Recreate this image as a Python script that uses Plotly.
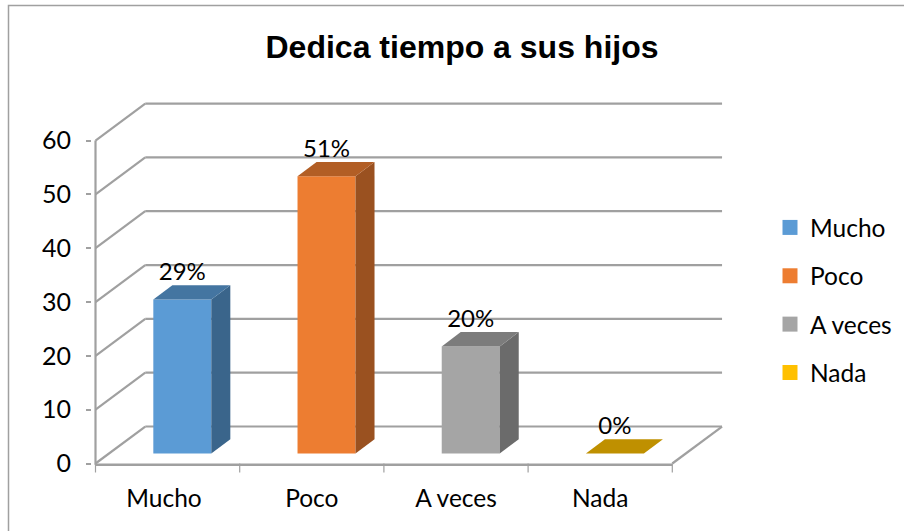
import plotly.graph_objects as go

categories = ["Mucho", "Poco", "A veces", "Nada"]
values = [28.6, 51.5, 19.9, 0]
labels = ["29%", "51%", "20%", "0%"]
y_ticks = [0, 10, 20, 30, 40, 50, 60]
front_colors = ["#5B9BD5", "#ED7D31", "#A5A5A5", "#FFC000"]
top_colors = ["#4475A1", "#B25E25", "#7C7C7C", "#BF9000"]
side_colors = ["#3A658B", "#9A5120", "#6B6B6B", "#A67C00"]

W, H = 904, 531
L, R, T, B = 92.0, 904.0, 100.0, 478.0
AX_X, AX_Y = 95.5, 463.5
PX_X, PX_Y = 144.2, 5.383
GRID = "#A0A0A0"
depth_x, depth_y = 0.345, 6.87
bar_width, bar_shift, bar_base = 0.402, 0.102, 1.85
bar_dx, bar_dy = 0.132, 2.66
x_range = [-0.5 - (AX_X - L) / PX_X, -0.5 + (R - AX_X) / PX_X]
y_range = [-(B - AX_Y) / PX_Y, (AX_Y - T) / PX_Y]
positions = list(range(len(categories)))
label_nudge = [-0.025, 0, 0, 0]

fig = go.Figure()
shapes = []


def seg(x0, y0, x1, y1, width=2.2):
    shapes.append(dict(type="line", xref="x", yref="y", x0=x0, y0=y0, x1=x1, y1=y1,
                       layer="below", line=dict(color=GRID, width=width)))


# walls, floor and axis lines follow the value ticks
x_left, x_right = -0.5, len(categories) - 0.5
for t in y_ticks:
    seg(x_left, t, x_left + depth_x, t + depth_y)
    seg(x_left + depth_x, t + depth_y, x_right + depth_x, t + depth_y)
seg(x_left, y_ticks[0] - 0.25, x_left, y_ticks[-1])
seg(x_left, y_ticks[0] - 0.25, x_right, y_ticks[0] - 0.25, 2.5)
seg(x_right, y_ticks[0], x_right + depth_x, y_ticks[0] + depth_y)
for i in range(len(categories) + 1):
    shapes.append(dict(type="line", xref="x", yref="y", ysizemode="pixel", yanchor=0,
                       x0=x_left + i, x1=x_left + i, y0=0, y1=-9, layer="below",
                       line=dict(color=GRID, width=1.2)))

# front faces
for i, c in enumerate(categories):
    fig.add_trace(go.Bar(x=[positions[i] + bar_shift], y=[values[i]], base=bar_base,
                         width=bar_width, marker=dict(color=front_colors[i], line=dict(width=0)),
                         showlegend=False, hoverinfo="skip"))

# side and top faces
for i, c in enumerate(categories):
    x0 = positions[i] + bar_shift - bar_width / 2
    x1 = x0 + bar_width
    y0 = bar_base
    y1 = bar_base + values[i]
    fig.add_trace(go.Scatter(x=[x1, x1 + bar_dx, x1 + bar_dx, x1, x1],
                             y=[y0, y0 + bar_dy, y1 + bar_dy, y1, y0],
                             mode="lines", fill="toself", fillcolor=side_colors[i],
                             line=dict(width=0), showlegend=False, hoverinfo="skip"))
    fig.add_trace(go.Scatter(x=[x0, x1, x1 + bar_dx, x0 + bar_dx, x0],
                             y=[y1, y1, y1 + bar_dy, y1 + bar_dy, y1],
                             mode="lines", fill="toself", fillcolor=top_colors[i],
                             line=dict(width=0), showlegend=False, hoverinfo="skip"))

# data labels
fig.add_trace(go.Scatter(x=[p + bar_shift for p in positions],
                         y=[bar_base + v + 4.7 for v in values],
                         text=labels, mode="text", textposition="middle center",
                         textfont=dict(family="Lato", size=24, color="#000000"),
                         showlegend=False, hoverinfo="skip"))

# legend entries
for i, c in enumerate(categories):
    fig.add_trace(go.Scatter(x=[None], y=[None], name=c, legendgroup=c, mode="markers",
                             marker=dict(symbol="square", size=15, color=front_colors[i])))

# chart frame
shapes.append(dict(type="rect", xref="paper", yref="paper",
                   x0=(8.5 - L) / (R - L), x1=(W + 5 - L) / (R - L),
                   y0=(B - H - 5) / (B - T), y1=(B - 5.5) / (B - T),
                   layer="below", line=dict(color="#A0A0A0", width=1.5)))

fig.update_layout(
    width=W, height=H, autosize=False,
    margin=dict(l=L, r=W - R, t=T, b=H - B, pad=0),
    paper_bgcolor="#FFFFFF", plot_bgcolor="rgba(0,0,0,0)",
    shapes=shapes, barmode="overlay", hovermode=False,
    title=dict(text="<b>Dedica tiempo a sus hijos</b>", x=462 / W, y=1 - 47 / H,
               xanchor="center", yanchor="middle",
               font=dict(family="Liberation Sans", size=32, color="#000000")),
    xaxis=dict(range=x_range, tickvals=[p + n for p, n in zip(positions, label_nudge)],
               ticktext=categories, showgrid=False,
               zeroline=False, showline=False, ticks="", ticklabelstandoff=3,
               tickfont=dict(family="Lato", size=24.5, color="#000000")),
    yaxis=dict(range=y_range, tickvals=y_ticks, showgrid=False, zeroline=False, showline=False,
               ticks="outside", ticklen=5, tickwidth=1.5, tickcolor=GRID, ticklabelstandoff=10,
               tickfont=dict(family="Lato", size=25, color="#000000")),
    legend=dict(x=(770 - L) / (R - L), y=(B - 205) / (B - T), xanchor="left", yanchor="top",
                tracegroupgap=13.5, bgcolor="rgba(0,0,0,0)",
                font=dict(family="Lato", size=24.5, color="#000000")),
)

fig.write_html("out.html", config=dict(displayModeBar=False),
               post_script="document.body.style.margin='0';document.body.style.overflow='hidden';")
